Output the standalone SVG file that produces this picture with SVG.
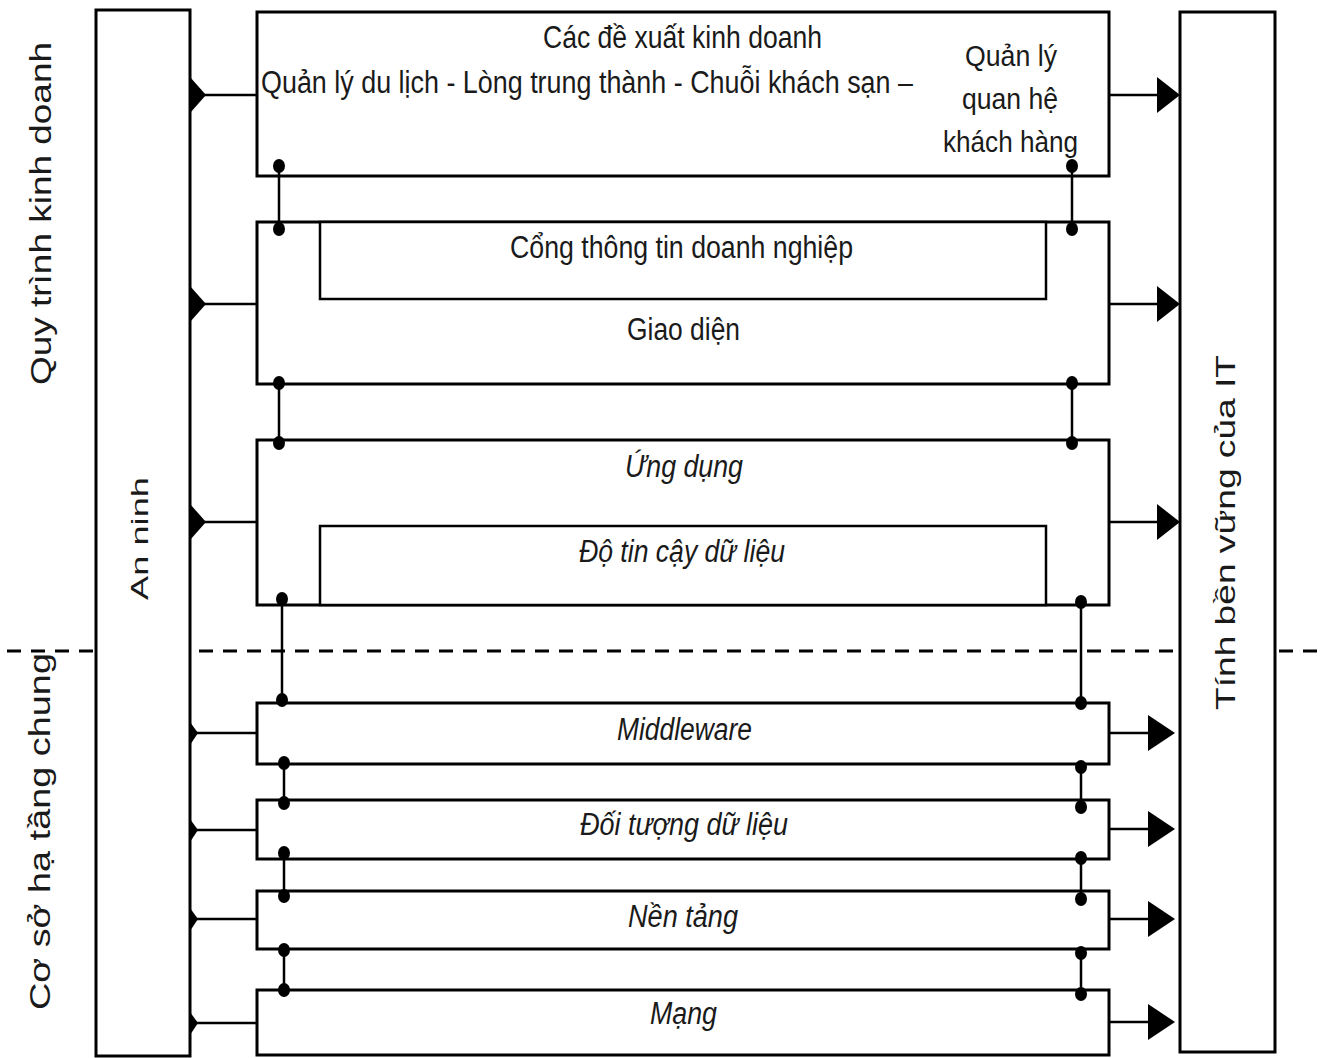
<svg xmlns="http://www.w3.org/2000/svg" width="1324" height="1058" viewBox="0 0 1324 1058">
<style>
.col{fill:#fff;stroke:#000;stroke-width:3}
.box{fill:#fff;stroke:#000;stroke-width:3}
.inner{fill:#fff;stroke:#000;stroke-width:2.5}
.ln{stroke:#000;stroke-width:2.5;fill:none}
.ah{fill:#000;stroke:none}
.dot{fill:#000}
.t{font-family:"Liberation Sans",Arial,sans-serif;fill:#1a1a1a;font-size:31px}
.i{font-style:italic}
.dash{stroke:#000;stroke-width:3;stroke-dasharray:14 10;fill:none}
</style>
<rect width="1324" height="1058" fill="#fff"/>
<line class="dash" x1="7" y1="651" x2="1324" y2="651"/>
<g id="side-labels">
<text class="t" style="font-size:30px" transform="rotate(-90)" x="-385" y="51" textLength="343" lengthAdjust="spacingAndGlyphs">Quy trình kinh doanh</text>
<text class="t" style="font-size:30px" transform="rotate(-90)" x="-1010" y="50" textLength="357" lengthAdjust="spacingAndGlyphs">Cơ sở hạ tầng chung</text>
</g>
<g id="an-ninh">
<rect class="col" x="96" y="10" width="94" height="1046"/>
<text class="t" style="font-size:24px" transform="rotate(-90)" x="-600" y="148" textLength="123" lengthAdjust="spacingAndGlyphs">An ninh</text>
</g>
<g id="tinh-ben-vung">
<rect class="col" x="1180" y="12" width="95" height="1040"/>
<text class="t" style="font-size:28px" transform="rotate(-90)" x="-710" y="1235" textLength="355" lengthAdjust="spacingAndGlyphs">Tính bền vững của IT</text>
</g>
<g id="de-xuat">
<rect class="box" x="257" y="12" width="852" height="164"/>
<text class="t" x="543" y="48" textLength="279" lengthAdjust="spacingAndGlyphs">Các đề xuất kinh doanh</text>
<text class="t" transform="translate(261,93) scale(0.868,1)" x="0" y="0">Quản lý du lịch - Lòng trung thành - Chuỗi khách sạn –</text>
<text class="t" style="font-size:29px" x="965" y="66" textLength="92" lengthAdjust="spacingAndGlyphs">Quản lý</text>
<text class="t" style="font-size:29px" x="962" y="109" textLength="96" lengthAdjust="spacingAndGlyphs">quan hệ</text>
<text class="t" style="font-size:29px" x="943" y="152" textLength="135" lengthAdjust="spacingAndGlyphs">khách hàng</text>
</g>
<g id="giao-dien">
<rect class="box" x="257" y="222" width="852" height="162"/>
<rect class="inner" x="320" y="222" width="726" height="77"/>
<text class="t" x="510" y="258" textLength="343" lengthAdjust="spacingAndGlyphs">Cổng thông tin doanh nghiệp</text>
<text class="t" x="627" y="340" textLength="113" lengthAdjust="spacingAndGlyphs">Giao diện</text>
</g>
<g id="ung-dung">
<rect class="box" x="257" y="440" width="852" height="165"/>
<rect class="inner" x="320" y="526" width="726" height="79"/>
<text class="t i" x="625" y="477" textLength="118" lengthAdjust="spacingAndGlyphs">Ứng dụng</text>
<text class="t i" x="579" y="562" textLength="206" lengthAdjust="spacingAndGlyphs">Độ tin cậy dữ liệu</text>
</g>
<g id="middleware">
<rect class="box" x="257" y="703" width="852" height="61"/>
<text class="t i" x="617" y="740" textLength="135" lengthAdjust="spacingAndGlyphs">Middleware</text>
</g>
<g id="doi-tuong">
<rect class="box" x="257" y="800" width="852" height="59"/>
<text class="t i" x="580" y="835" textLength="208" lengthAdjust="spacingAndGlyphs">Đối tượng dữ liệu</text>
</g>
<g id="nen-tang">
<rect class="box" x="257" y="891" width="852" height="58"/>
<text class="t i" x="628" y="927" textLength="110" lengthAdjust="spacingAndGlyphs">Nền tảng</text>
</g>
<g id="mang">
<rect class="box" x="257" y="990" width="852" height="65"/>
<text class="t i" x="650" y="1024" textLength="67" lengthAdjust="spacingAndGlyphs">Mạng</text>
</g>
<g id="connectors">
<line class="ln" x1="200" y1="95" x2="257" y2="95"/>
<polygon class="ah" points="190,77 206,95 190,113"/>
<line class="ln" x1="200" y1="304" x2="257" y2="304"/>
<polygon class="ah" points="190,286 206,304 190,322"/>
<line class="ln" x1="200" y1="522" x2="257" y2="522"/>
<polygon class="ah" points="190,504 206,522 190,540"/>
<line class="ln" x1="192" y1="733" x2="257" y2="733"/>
<polygon class="ah" points="190,722 198,733 190,745"/>
<line class="ln" x1="192" y1="830" x2="257" y2="830"/>
<polygon class="ah" points="190,819 198,830 190,842"/>
<line class="ln" x1="192" y1="919" x2="257" y2="919"/>
<polygon class="ah" points="190,908 198,919 190,931"/>
<line class="ln" x1="192" y1="1023" x2="257" y2="1023"/>
<polygon class="ah" points="190,1012 198,1023 190,1035"/>
<line class="ln" x1="1109" y1="95" x2="1160" y2="95"/>
<polygon class="ah" points="1157,77 1180,95 1157,113"/>
<line class="ln" x1="1109" y1="304" x2="1160" y2="304"/>
<polygon class="ah" points="1157,286 1180,304 1157,322"/>
<line class="ln" x1="1109" y1="522" x2="1160" y2="522"/>
<polygon class="ah" points="1157,504 1180,522 1157,540"/>
<line class="ln" x1="1109" y1="733" x2="1150" y2="733"/>
<polygon class="ah" points="1148,715 1175,733 1148,751"/>
<line class="ln" x1="1109" y1="829" x2="1150" y2="829"/>
<polygon class="ah" points="1148,811 1175,829 1148,847"/>
<line class="ln" x1="1109" y1="919" x2="1150" y2="919"/>
<polygon class="ah" points="1148,901 1175,919 1148,937"/>
<line class="ln" x1="1109" y1="1022" x2="1150" y2="1022"/>
<polygon class="ah" points="1148,1004 1175,1022 1148,1040"/>
<line class="ln" x1="279" y1="166" x2="279" y2="229"/>
<ellipse class="dot" cx="279" cy="166" rx="6" ry="7"/><ellipse class="dot" cx="279" cy="229" rx="6" ry="7"/>
<line class="ln" x1="1072" y1="166" x2="1072" y2="229"/>
<ellipse class="dot" cx="1072" cy="166" rx="6" ry="7"/><ellipse class="dot" cx="1072" cy="229" rx="6" ry="7"/>
<line class="ln" x1="279" y1="383" x2="279" y2="443"/>
<ellipse class="dot" cx="279" cy="383" rx="6" ry="7"/><ellipse class="dot" cx="279" cy="443" rx="6" ry="7"/>
<line class="ln" x1="1072" y1="383" x2="1072" y2="443"/>
<ellipse class="dot" cx="1072" cy="383" rx="6" ry="7"/><ellipse class="dot" cx="1072" cy="443" rx="6" ry="7"/>
<line class="ln" x1="282" y1="599" x2="282" y2="700"/>
<ellipse class="dot" cx="282" cy="599" rx="6" ry="7"/><ellipse class="dot" cx="282" cy="700" rx="6" ry="7"/>
<line class="ln" x1="1081" y1="602" x2="1081" y2="703"/>
<ellipse class="dot" cx="1081" cy="602" rx="6" ry="7"/><ellipse class="dot" cx="1081" cy="703" rx="6" ry="7"/>
<line class="ln" x1="284" y1="763" x2="284" y2="803"/>
<ellipse class="dot" cx="284" cy="763" rx="6" ry="7"/><ellipse class="dot" cx="284" cy="803" rx="6" ry="7"/>
<line class="ln" x1="1081" y1="767" x2="1081" y2="807"/>
<ellipse class="dot" cx="1081" cy="767" rx="6" ry="7"/><ellipse class="dot" cx="1081" cy="807" rx="6" ry="7"/>
<line class="ln" x1="284" y1="853" x2="284" y2="896"/>
<ellipse class="dot" cx="284" cy="853" rx="6" ry="7"/><ellipse class="dot" cx="284" cy="896" rx="6" ry="7"/>
<line class="ln" x1="1081" y1="858" x2="1081" y2="899"/>
<ellipse class="dot" cx="1081" cy="858" rx="6" ry="7"/><ellipse class="dot" cx="1081" cy="899" rx="6" ry="7"/>
<line class="ln" x1="284" y1="950" x2="284" y2="990"/>
<ellipse class="dot" cx="284" cy="950" rx="6" ry="7"/><ellipse class="dot" cx="284" cy="990" rx="6" ry="7"/>
<line class="ln" x1="1081" y1="953" x2="1081" y2="994"/>
<ellipse class="dot" cx="1081" cy="953" rx="6" ry="7"/><ellipse class="dot" cx="1081" cy="994" rx="6" ry="7"/>
</g>
</svg>
